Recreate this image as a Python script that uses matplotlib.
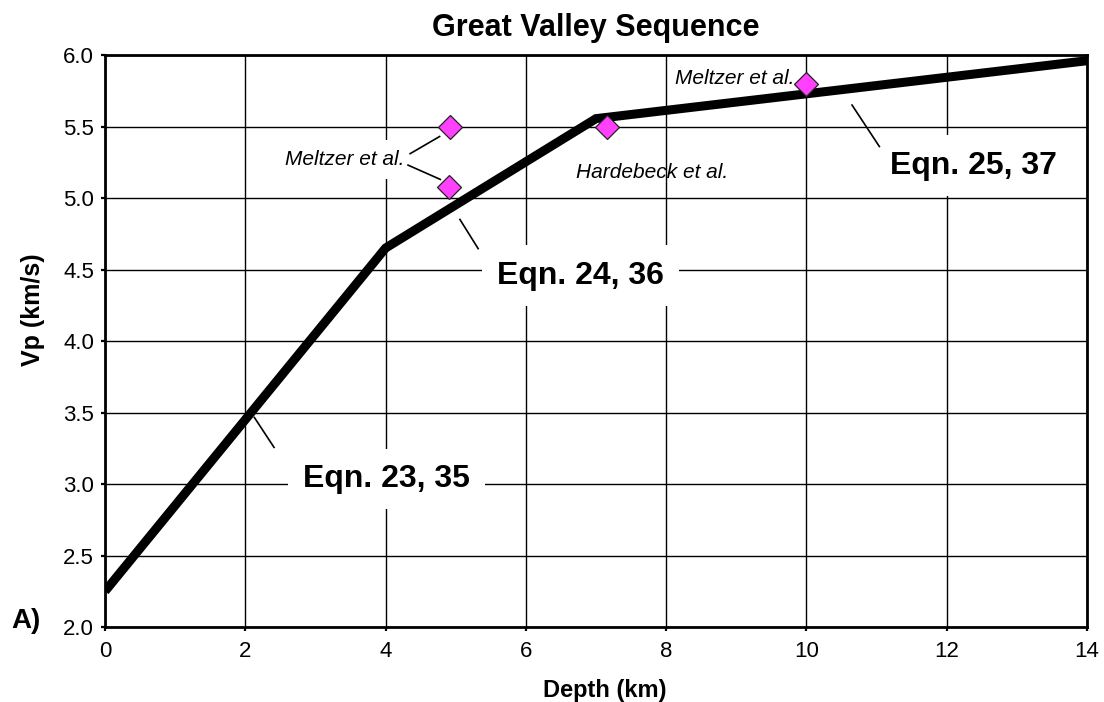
import matplotlib
matplotlib.use("Agg")
import matplotlib.pyplot as plt

plt.rcParams['font.family'] = ['Liberation Sans', 'DejaVu Sans']

# Piecewise-linear Vp model (depth km, Vp km/s)
model_depth = [0.0, 4.0, 7.0, 14.0]
model_vp = [2.25, 4.65, 5.555, 5.96]

# Observed values
obs_depth = [4.92, 4.91, 7.16, 10.0]
obs_vp = [5.50, 5.076, 5.50, 5.795]

x_ticks = [0, 2, 4, 6, 8, 10, 12, 14]
y_ticks = [2.0, 2.5, 3.0, 3.5, 4.0, 4.5, 5.0, 5.5, 6.0]

W, H = 1104, 702
fig = plt.figure(figsize=(W / 100, H / 100), dpi=100)
ax = fig.add_axes([105 / W, 1 - 627 / H, 982 / W, 572 / H])

ax.plot(model_depth, model_vp, color='black', lw=6.5, solid_capstyle='butt',
        solid_joinstyle='miter', zorder=4)
ax.plot(obs_depth, obs_vp, linestyle='none', marker='D', ms=12.5,
        markerfacecolor='#ff40ff', markeredgecolor='#222222', markeredgewidth=0.9,
        zorder=6)

ax.set_xlim(0, 14)
ax.set_ylim(2.0, 6.0)
ax.set_xticks(x_ticks)
ax.set_yticks(y_ticks)
ax.set_xticklabels([str(v) for v in x_ticks])
ax.set_yticklabels([f"{v:.1f}" for v in y_ticks])
ax.grid(True, color='black', lw=1.0, zorder=0)
ax.set_axisbelow(True)
for s in ax.spines.values():
    s.set_linewidth(2.0)
    s.set_zorder(8)
ax.tick_params(direction='out', length=3, width=1.6, labelsize=16)
ax.tick_params(axis='x', pad=7)
ax.tick_params(axis='y', pad=5)

ax.set_title('Great Valley Sequence', fontsize=22, fontweight='bold', pad=14)
fig.text(605 / W, 1 - 697 / H, 'Depth (km)', fontsize=17, fontweight='bold',
         ha='center', va='baseline')
fig.text(33 / W, 1 - 310 / H, 'Vp (km/s)', fontsize=18, fontweight='bold',
         ha='center', va='center', rotation=90)

# Equation labels with leader lines (pad in points)
box = dict(facecolor='white', edgecolor='none', pad=11)
ax.text(4.015, 2.98, 'Eqn. 23, 35', fontsize=23, fontweight='bold',
        ha='center', va='baseline', bbox=box, zorder=3)
ax.text(6.78, 4.40, 'Eqn. 24, 36', fontsize=23, fontweight='bold',
        ha='center', va='baseline', bbox=box, zorder=3)
ax.text(12.38, 5.17, 'Eqn. 25, 37', fontsize=23, fontweight='bold',
        ha='center', va='baseline', bbox=box, zorder=3)
ax.plot([2.13, 2.41], [3.465, 3.256], color='black', lw=1.2, zorder=5)
ax.plot([5.06, 5.32], [4.85, 4.646], color='black', lw=1.2, zorder=5)
ax.plot([10.65, 11.04], [5.65, 5.36], color='black', lw=1.2, zorder=5)

# Source annotations
ax.text(4.27, 5.23, 'Meltzer et al.', fontsize=15, style='italic',
        ha='right', va='baseline', zorder=3,
        bbox=dict(facecolor='white', edgecolor='none', pad=7))
ax.plot([4.35, 4.77], [5.31, 5.43], color='black', lw=1.2, zorder=5)
ax.plot([4.32, 4.78], [5.23, 5.13], color='black', lw=1.2, zorder=5)
ax.text(6.72, 5.14, 'Hardebeck et al.', fontsize=15, style='italic',
        ha='left', va='baseline', zorder=5)
ax.text(8.13, 5.80, 'Meltzer et al.', fontsize=15, style='italic',
        ha='left', va='baseline', zorder=5)

fig.text(11 / W, 1 - 628 / H, 'A)', fontsize=20, fontweight='bold',
         ha='left', va='baseline')

fig.savefig('out.png', dpi=100)
